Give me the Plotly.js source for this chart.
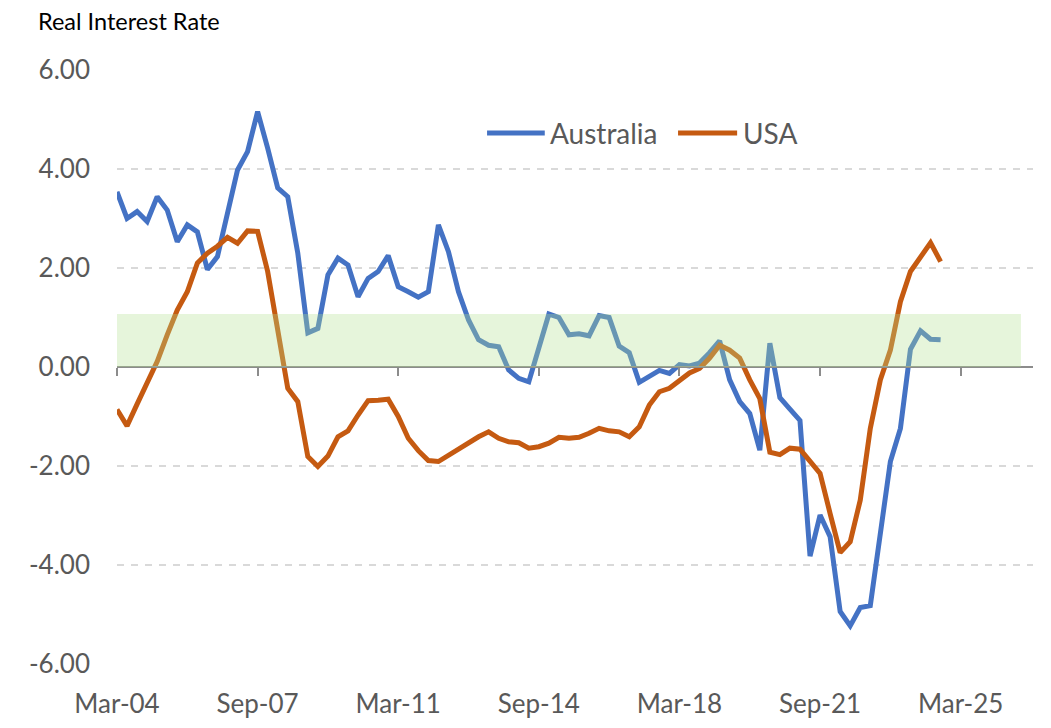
<!DOCTYPE html>
<html>
<head>
<meta charset="utf-8">
<script src="https://cdn.plot.ly/plotly-3.0.1.min.js"></script>
<style>
  html, body { margin: 0; padding: 0; background: #ffffff; }
  #chart { width: 1051px; height: 728px; }
</style>
</head>
<body>
<div id="chart"></div>
<script>
// Quarterly real interest rates, Mar-04 to Sep-24
const startYear = 2004;
const startMonth = 3;

const australia = [
  3.54, 3.00, 3.14, 2.94, 3.44, 3.17, 2.53, 2.87, 2.73, 1.97,
  2.23, 3.08, 3.98, 4.35, 5.16, 4.42, 3.62, 3.44, 2.30, 0.69,
  0.78, 1.86, 2.20, 2.06, 1.42, 1.79, 1.93, 2.25, 1.62, 1.52,
  1.41, 1.52, 2.87, 2.33, 1.52, 0.95, 0.55, 0.44, 0.41, -0.06,
  -0.23, -0.30, 0.39, 1.07, 1.00, 0.65, 0.67, 0.63, 1.04, 1.00,
  0.42, 0.29, -0.31, -0.18, -0.07, -0.13, 0.05, 0.02, 0.08, 0.29,
  0.53, -0.26, -0.70, -0.94, -1.68, 0.48, -0.62, -0.85, -1.08, -3.82,
  -2.99, -3.43, -4.94, -5.23, -4.86, -4.82, -3.36, -1.91, -1.24, 0.36,
  0.73, 0.56, 0.55
];

const usa = [
  -0.86, -1.19, -0.75, -0.30, 0.11, 0.65, 1.15, 1.52, 2.10, 2.30,
  2.44, 2.62, 2.50, 2.75, 2.74, 1.93, 0.78, -0.43, -0.70, -1.81,
  -2.01, -1.80, -1.41, -1.29, -0.97, -0.68, -0.67, -0.65, -1.00, -1.44,
  -1.69, -1.89, -1.91, -1.78, -1.66, -1.54, -1.41, -1.31, -1.44, -1.51,
  -1.53, -1.64, -1.61, -1.54, -1.42, -1.44, -1.42, -1.34, -1.24, -1.29,
  -1.31, -1.41, -1.21, -0.77, -0.50, -0.43, -0.29, -0.12, -0.03, 0.18,
  0.44, 0.34, 0.18, -0.26, -0.64, -1.72, -1.77, -1.64, -1.66, -1.91,
  -2.15, -2.96, -3.75, -3.53, -2.69, -1.24, -0.26, 0.34, 1.32, 1.93,
  2.22, 2.51, 2.13
];

const tickLabels = ["Mar-04", "Sep-07", "Mar-11", "Sep-14", "Mar-18", "Sep-21", "Mar-25"];
const yTicks = [-6, -4, -2, 0, 2, 4, 6];

// Comfort band for real rates
const bandLow = 0;
const bandHigh = 1.07;

const MONTHS = ["Jan","Feb","Mar","Apr","May","Jun","Jul","Aug","Sep","Oct","Nov","Dec"];

// Quarter number counted from the first observation
function quarterIndex(label) {
  const [mon, yy] = label.split("-");
  const m = MONTHS.indexOf(mon) + 1;
  const y = 2000 + parseInt(yy, 10);
  return ((y - startYear) * 12 + (m - startMonth)) / 3;
}

const xs = australia.map((_, i) => i);
const tickVals = tickLabels.map(quarterIndex);
const yTickText = yTicks.map(v => v.toFixed(2));
const xRange = [0, 91.2];

const BLUE = "#4472C4";
const ORANGE = "#C55A11";
const GREY_TXT = "#595959";
const FONT = "Lato, 'Open Sans', sans-serif";

const traces = [
  {
    x: xs, y: australia, name: "Australia", type: "scatter", mode: "lines",
    line: { color: BLUE, width: 5 }, showlegend: false, hoverinfo: "skip"
  },
  {
    x: xs, y: usa, name: "USA", type: "scatter", mode: "lines",
    line: { color: ORANGE, width: 5 }, showlegend: false, hoverinfo: "skip"
  },
  // empty trace so the zero-crossing axis (xaxis2) gets drawn
  {
    x: [], y: [], xaxis: "x2", yaxis: "y", type: "scatter", mode: "lines",
    showlegend: false, hoverinfo: "skip"
  }
];

// Hand-built legend so the line samples can be long
const legendY = 0.894;
const legendItems = [
  { name: "Australia", color: BLUE, x0: 0.404, x1: 0.467 },
  { name: "USA", color: ORANGE, x0: 0.6125, x1: 0.677 }
];

const shapes = [
  {
    type: "rect", xref: "x", yref: "y", layer: "above",
    x0: xRange[0], x1: 90, y0: bandLow, y1: bandHigh,
    fillcolor: "rgba(180,226,145,0.33)", line: { width: 0 }
  }
].concat(legendItems.map(it => ({
  type: "line", xref: "paper", yref: "paper",
  x0: it.x0, x1: it.x1, y0: legendY, y1: legendY,
  line: { color: it.color, width: 5 }
})));

const annotations = legendItems.map(it => ({
  xref: "paper", yref: "paper", x: it.x1 + 0.004, y: legendY,
  xanchor: "left", yanchor: "middle", showarrow: false,
  text: it.name, font: { family: FONT, size: 28, color: GREY_TXT }
}));

const layout = {
  width: 1051, height: 728,
  paper_bgcolor: "#ffffff", plot_bgcolor: "#ffffff",
  margin: { l: 117, r: 18, t: 70, b: 64, pad: 0 },
  showlegend: false,
  title: {
    text: "Real Interest Rate",
    xref: "container", yref: "container",
    x: 38 / 1051, xanchor: "left",
    y: 1 - 22 / 728, yanchor: "middle",
    font: { family: FONT, size: 23.5, color: "#000000" }
  },
  xaxis: {
    range: xRange, showgrid: false, zeroline: false, showline: false,
    tickmode: "array", tickvals: tickVals, ticktext: tickLabels,
    ticks: "", ticklabelstandoff: 22,
    tickfont: { family: FONT, size: 26, color: GREY_TXT }
  },
  xaxis2: {
    overlaying: "x", anchor: "free", position: 0.5, side: "bottom",
    range: xRange, showgrid: false, zeroline: false,
    showline: true, linecolor: "#8c8c8c", linewidth: 2,
    tickmode: "array", tickvals: tickVals,
    ticks: "outside", ticklen: 8, tickwidth: 2, tickcolor: "#8c8c8c",
    showticklabels: false
  },
  yaxis: {
    range: [-6, 6], tickmode: "array", tickvals: yTicks, ticktext: yTickText,
    showgrid: true, gridcolor: "#d9d9d9", gridwidth: 2, griddash: "7px,7px",
    zeroline: false, showline: false, ticks: "", ticklabelstandoff: 26,
    tickfont: { family: FONT, size: 26, color: GREY_TXT }
  },
  shapes: shapes,
  annotations: annotations
};

Plotly.newPlot("chart", traces, layout, { staticPlot: true, displayModeBar: false });
</script>
</body>
</html>
